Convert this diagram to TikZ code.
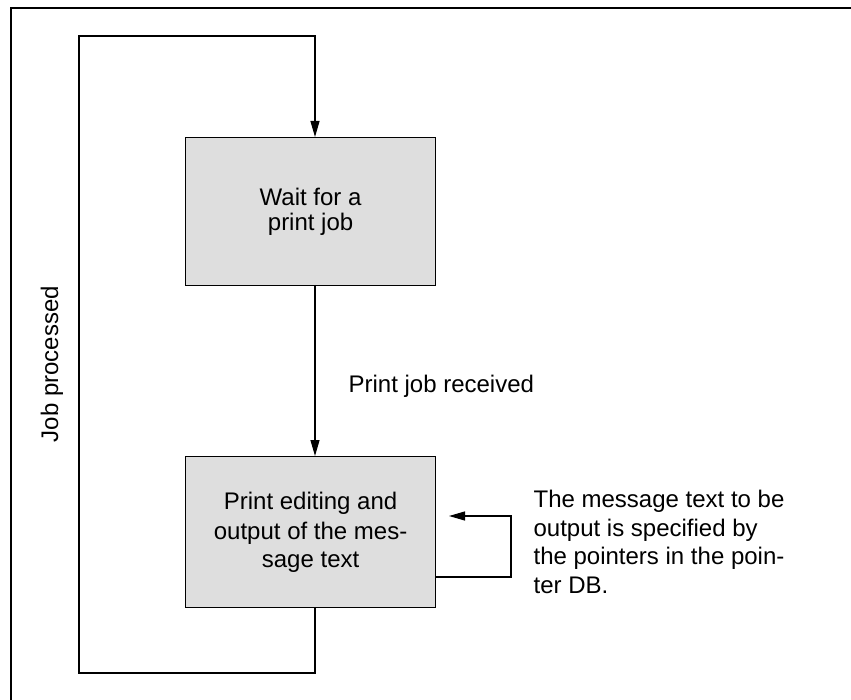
\documentclass[tikz,border=0pt]{standalone}
\usepackage{fontspec}
\setmainfont{Liberation Sans}
\usetikzlibrary{arrows.meta}
\definecolor{boxgray}{HTML}{DEDEDE}
\begin{document}
\begin{tikzpicture}[x=1pt,y=-1pt,
  line width=1.2pt,
  txt/.style={font=\fontsize{24}{28.5}\selectfont},
  box/.style={draw, fill=boxgray, minimum width=250pt, align=center, inner sep=0pt, txt},
  tip/.style={-{Triangle[length=16pt,width=9pt]}},
  lbl/.style={txt, align=left, inner sep=0pt}]
\useasboundingbox (0,0) rectangle (851,700);
% partial frame
\draw (11,700) -- (11,8) -- (851,8);
% boxes
\node[box, minimum height=148pt, anchor=north west] (wait) at (185,137) {\raisebox{-3pt}{\shortstack[c]{Wait for a\\[4.5pt]print job}}};
\node[box, minimum height=151pt, anchor=north west] (edit) at (185,456) {\raisebox{-6pt}{\shortstack[c]{Print editing and\\[4.5pt]output of the mes-\\[4.5pt]sage text}}};
% coordinates
\coordinate (wb) at (315,285);
\coordinate (et) at (315,456);
\coordinate (eb) at (315,607);
\coordinate (wt) at (315,137);
\coordinate (l1) at (315,673);
\coordinate (l2) at (79,673);
\coordinate (l3) at (79,36);
\coordinate (l4) at (315,36);
\coordinate (s0) at (435,577);
\coordinate (s1) at (511,577);
\coordinate (s2) at (511,516);
\coordinate (s3) at (449,516);
% connectors
\draw[tip] (wb) -- (et);
\draw[tip] (eb) -- (l1) -- (l2) -- (l3) -- (l4) -- (wt);
\draw[tip] (s0) -- (s1) -- (s2) -- (s3);
% labels
\node[lbl, anchor=west] (rcv) at (348,386) {Print job received};
\node[lbl, anchor=west] (note) at (533,542) {The message text to be\\output is specified by\\the pointers in the poin-\\ter DB.};
\node[lbl, rotate=90] (proc) at (52,364) {Job processed};
\end{tikzpicture}
\end{document}
